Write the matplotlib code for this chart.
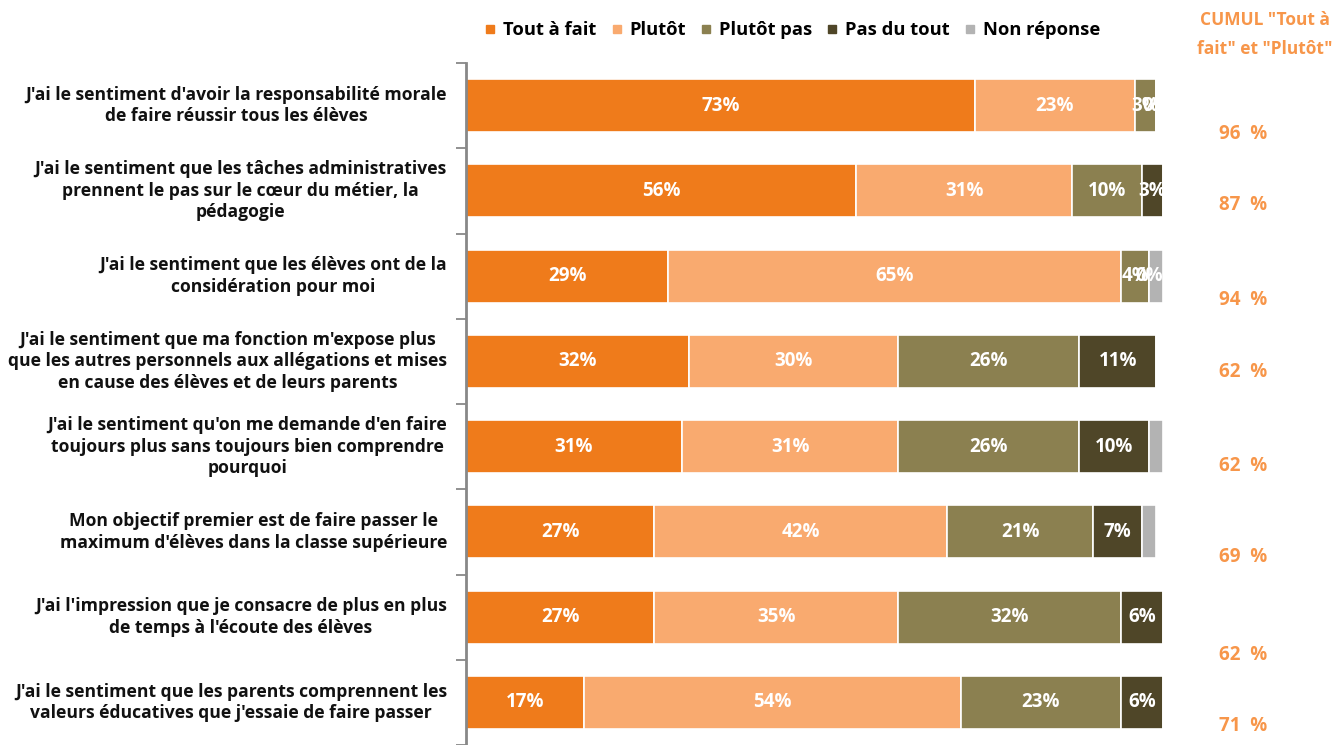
import numpy as np
import matplotlib.pyplot as plt
from matplotlib.lines import Line2D

plt.rcParams['font.family'] = ['Open Sans', 'DejaVu Sans']

categories = [
    "J'ai le sentiment d'avoir la responsabilité morale\nde faire réussir tous les élèves",
    "J'ai le sentiment que les tâches administratives\nprennent le pas sur le cœur du métier, la\npédagogie",
    "J'ai le sentiment que les élèves ont de la\nconsidération pour moi",
    "J'ai le sentiment que ma fonction m'expose plus\nque les autres personnels aux allégations et mises\nen cause des élèves et de leurs parents",
    "J'ai le sentiment qu'on me demande d'en faire\ntoujours plus sans toujours bien comprendre\npourquoi",
    "Mon objectif premier est de faire passer le\nmaximum d'élèves dans la classe supérieure",
    "J'ai l'impression que je consacre de plus en plus\nde temps à l'écoute des élèves",
    "J'ai le sentiment que les parents comprennent les\nvaleurs éducatives que j'essaie de faire passer",
]

series_names = ["Tout à fait", "Plutôt", "Plutôt pas", "Pas du tout", "Non réponse"]
tout_a_fait = [73, 56, 29, 32, 31, 27, 27, 17]
plutot = [23, 31, 65, 30, 31, 42, 35, 54]
plutot_pas = [3, 10, 4, 26, 26, 21, 32, 23]
pas_du_tout = [0, 3, 0, 11, 10, 7, 6, 6]
non_reponse = [0, 0, 2, 0, 2, 2, 0, 0.4]
cumul = [96, 87, 94, 62, 62, 69, 62, 71]
# vertical offset of the cumul figures under each bar (category units)
cumul_offset = [0.33, 0.17, 0.28, 0.12, 0.23, 0.29, 0.44, 0.28]

colors = ["#EF7B1B", "#F9AA6F", "#8B8050", "#4F4628", "#B3B3B3"]
orange_txt = "#F7964A"

data = np.array([tout_a_fait, plutot, plutot_pas, pas_du_tout, non_reponse])

fig = plt.figure(figsize=(13.32, 7.45), dpi=100)
ax = fig.add_axes([466 / 1332, 0, (1163 - 466) / 1332, (745 - 63) / 745])

y = np.arange(len(categories))
left = np.zeros(len(categories))
for i, name in enumerate(series_names):
    vals = data[i]
    ax.barh(y, vals, left=left, height=0.62, color=colors[i],
            edgecolor="white", linewidth=1.2, label=name)
    if i < 4:
        for j, v in enumerate(vals):
            if i == 3 and v == 0 and j not in (0, 2):
                continue
            ax.text(left[j] + v / 2, y[j], f"{v:g}%", ha="center", va="center",
                    color="white", fontsize=13.5, fontweight="bold")
    left += vals

ax.set_xlim(0, 100)
ax.set_ylim(7.41, -0.5)
ax.set_xticks([])
ax.set_yticks(np.arange(-0.5, 8, 1))
ax.set_yticklabels([])
ax.tick_params(axis="y", length=7, color="#888888", width=1.3)
for j, cat in enumerate(categories):
    ax.text(-19 / 6.96, y[j], cat, ha="right", va="center", multialignment="center",
            fontsize=12.6, fontweight="bold", color="#111111", linespacing=1.25)
for s in ["top", "right", "bottom"]:
    ax.spines[s].set_visible(False)
ax.spines["left"].set_color("#888888")
ax.spines["left"].set_linewidth(2)

for j, c in enumerate(cumul):
    ax.text(111.5, y[j] + cumul_offset[j], f"{c}  %", ha="center", va="center",
            color=orange_txt, fontsize=13.5, fontweight="bold", clip_on=False)

fig.text(1265 / 1332, 1 - 11 / 745, 'CUMUL "Tout à\nfait" et "Plutôt"', ha="center",
         va="top", color=orange_txt, fontsize=12.5, fontweight="bold",
         linespacing=1.75)

handles = [Line2D([0], [0], marker="s", linestyle="none", markersize=6,
                  markerfacecolor=c, markeredgecolor=c) for c in colors]
fig.legend(handles, series_names, loc="center", bbox_to_anchor=(792 / 1332, 1 - 30 / 745),
           ncol=5, frameon=False, handlelength=0.7, handletextpad=0.35,
           columnspacing=0.75, prop={"weight": "bold", "size": 13.2})

fig.savefig("out.png", dpi=100)
